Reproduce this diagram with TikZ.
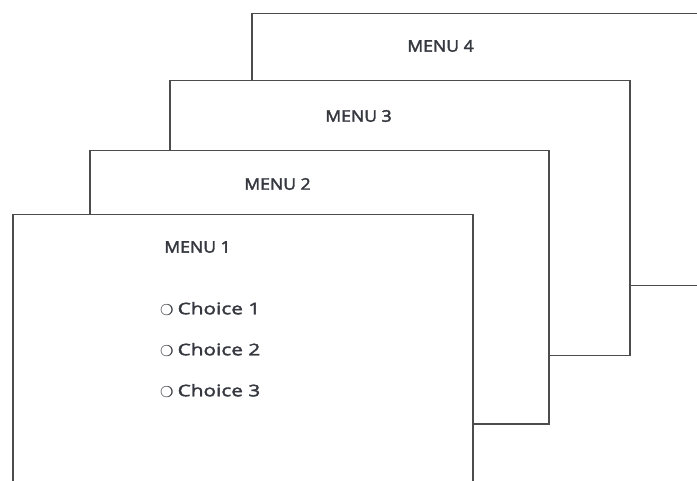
\documentclass[tikz,border=0pt]{standalone}
\usepackage{fontspec}
\setmainfont{Open Sans}
\newfontfamily\menufont{Open Sans}[FakeStretch=1.1,FakeBold=2.5]
\newfontfamily\choicefont{Open Sans}[FakeStretch=1.3,FakeBold=2.2]
\newfontfamily\symfont{DejaVu Sans}
\definecolor{ink}{HTML}{35383F}
\newcommand{\ringmark}{\raisebox{-1.5pt}{\symfont\fontsize{15}{18}\selectfont ❍}\hspace{4pt}}
\begin{document}
\begin{tikzpicture}[x=1pt,y=-1pt,
  card/.style={draw=black!70,line width=1.5pt,fill=white,anchor=north west,inner sep=0pt},
  lbl/.style={font=\menufont\fontsize{16}{18}\selectfont,text=ink,inner sep=0pt},
  choice/.style={font=\choicefont\fontsize{16}{18}\selectfont,text=ink,inner sep=0pt,anchor=west}]
\useasboundingbox (0,0) rectangle (697,481);
\clip (0,0) rectangle (697,481);
\node[card,minimum width=500pt,minimum height=272pt] (m4) at (251,13) {};
\node[card,minimum width=460pt,minimum height=275pt] (m3) at (169,80) {};
\node[card,minimum width=459pt,minimum height=273pt] (m2) at (89,150) {};
\node[card,minimum width=460pt,minimum height=300pt] (m1) at (12,214) {};
\node[lbl] (t4) at (440.5,46) {MENU 4};
\node[lbl] (t3) at (358.5,116) {MENU 3};
\node[lbl] (t2) at (277.5,184) {MENU 2};
\node[lbl] (t1) at (197.5,247) {MENU 1};
\node[choice] (c1) at (160,309) {\ringmark Choice 1};
\node[choice] (c2) at (160,350) {\ringmark Choice 2};
\node[choice] (c3) at (160,391) {\ringmark Choice 3};
\end{tikzpicture}
\end{document}
